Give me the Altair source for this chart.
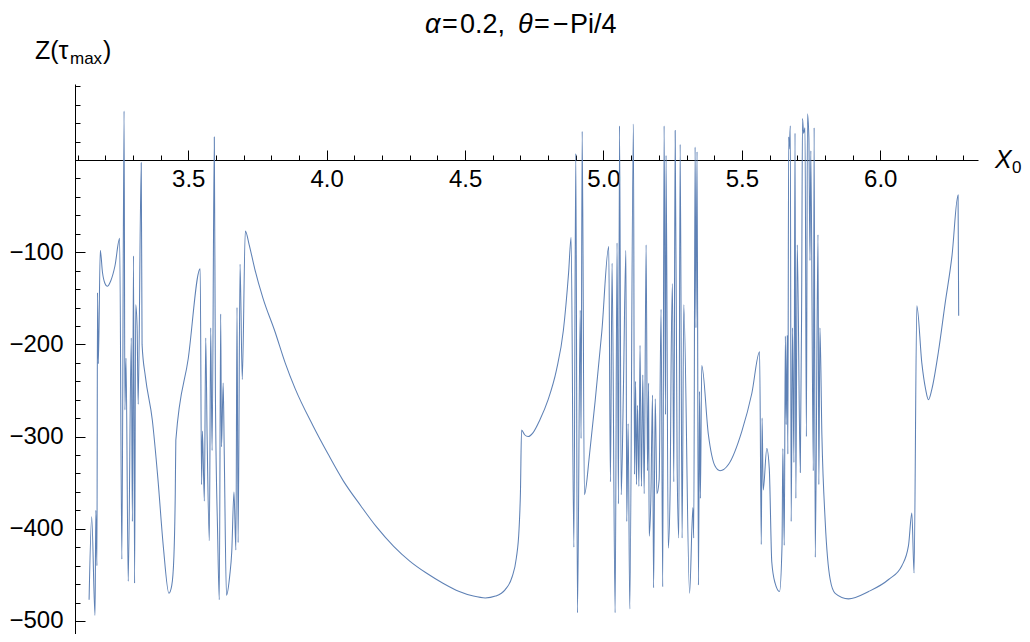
import altair as alt
import pandas as pd

# ---- data (X0, Z(tau_max)) ----
x_a = [3.1416, 3.151, 3.163, 3.166, 3.170, 3.172, 3.175, 3.182, 3.190, 3.199, 3.207, 3.220, 3.235, 3.252,
       3.260, 3.268, 3.271, 3.275, 3.283, 3.294, 3.298, 3.302, 3.306, 3.310, 3.315, 3.319, 3.330,
       3.333, 3.345, 3.370, 3.390, 3.410, 3.430, 3.440, 3.448, 3.453, 3.455]
z_a = [-477, -387, -494, -380, -440, -144, -221, -98, -122, -134, -137, -131, -115, -85,
       -433, 53, -271, -215, -457, -193, -392, -104, -459, -157, -180, -265, -3,
       -200, -235, -282, -345, -420, -470, -462, -430, -360, -304]

x_b = [3.500, 3.543, 3.548, 3.551, 3.558, 3.563, 3.568, 3.576, 3.581, 3.586, 3.594, 3.598, 3.606, 3.612, 3.617,
       3.620, 3.626, 3.630, 3.638, 3.650, 3.657, 3.665, 3.672, 3.676, 3.680, 3.687, 3.695, 3.706]
z_b = [-215, -118, -352, -294, -370, -193, -300, -413, -182, -315, 25, -255, -405, -477, -167,
       -311, -242, -320, -472, -450, -425, -360, -423, -160, -415, -113, -238, -77]

x_c = [3.720, 3.740, 3.770, 3.813, 3.850, 3.886, 3.950, 4.005, 4.060, 4.123, 4.180, 4.242, 4.300, 4.360,
       4.420, 4.479, 4.530, 4.573, 4.610, 4.645, 4.670, 4.685, 4.695, 4.700, 4.704, 4.715, 4.728,
       4.745, 4.770, 4.800, 4.830, 4.855, 4.874, 4.883]
z_c = [-92, -118, -150, -186, -220, -248, -288, -319, -348, -375, -398, -419, -435, -448,
       -459, -468, -473, -475, -473, -466, -452, -432, -400, -360, -293, -298, -300,
       -296, -282, -260, -228, -185, -122, -84]

x_d = [4.893, 4.900, 4.906, 4.916, 4.919, 4.923, 4.931, 4.950, 4.970, 4.994, 5.019, 5.025, 5.031, 5.042,
       5.049, 5.054, 5.058, 5.064, 5.072, 5.081, 5.084, 5.089, 5.095, 5.108, 5.112, 5.116, 5.119,
       5.123, 5.128, 5.132, 5.137, 5.142, 5.147, 5.154, 5.159, 5.163, 5.165, 5.171, 5.177, 5.181,
       5.187, 5.193, 5.201, 5.208, 5.214, 5.219, 5.224, 5.226, 5.234, 5.241, 5.244, 5.249, 5.254,
       5.259, 5.266, 5.272, 5.277, 5.284, 5.290, 5.311, 5.323, 5.326, 5.331, 5.334, 5.338, 5.343,
       5.347, 5.350, 5.355, 5.379, 5.403, 5.421]
z_d = [-420, 7, -491, -163, -302, 31, -363, -318, -261, -186, -94, -349, -112, -491,
       -90, -373, 37, -363, -248, -98, -392, -286, -487, 39, -341, -240, -352,
       -266, -354, -201, -354, -233, -362, -92, -337, -242, -408, -369, -255, -464,
       -259, -362, -347, -162, -463, 37, -276, 5, -421, -354, -231, -134, -349,
       32, -330, -410, 17, -410, -157, -470, -377, -410, 14, -182, 9, -461,
       -251, -367, -223, -298, -332, -337]

x_e = [5.452, 5.500, 5.536, 5.564, 5.570, 5.573, 5.577, 5.590, 5.599, 5.608, 5.620, 5.636, 5.645, 5.648,
       5.653, 5.657, 5.660, 5.664, 5.666, 5.669, 5.671, 5.675, 5.678, 5.683, 5.688, 5.692, 5.695,
       5.700, 5.711, 5.716, 5.719, 5.723, 5.728, 5.733, 5.737, 5.742, 5.746, 5.749, 5.758, 5.761,
       5.765, 5.775, 5.778, 5.782, 5.789, 5.801, 5.819, 5.837, 5.885, 5.958, 6.030, 6.078, 6.102,
       6.114, 6.122, 6.132, 6.150, 6.164, 6.174, 6.186, 6.210, 6.234, 6.259, 6.281, 6.2832]
z_e = [-330, -294, -253, -208, -417, -280, -358, -313, -335, -436, -459, -468, -418, -313,
       -418, -191, -287, -190, -319, 25, 12, 37, -392, -182, -328, 29, -367,
       -92, -339, -148, 45, 29, 35, -300, 50, 24, -109, 10, -337, 35,
       -431, -81, -352, -182, -298, -392, -455, -470, -476, -468, -455, -440, -418,
       -383, -448, -158, -220, -249, -260, -249, -208, -156, -104, -38, -169]

xs = x_a + x_b + x_c + x_d + x_e
zs = z_a + z_b + z_c + z_d + z_e
df = pd.DataFrame({"x": xs, "z": zs, "i": list(range(len(xs)))})

# ---- ticks ----
x_major = [3.5, 4.0, 4.5, 5.0, 5.5, 6.0]
x_minor = [3.1, 3.2, 3.3, 3.4, 3.6, 3.7, 3.8, 3.9, 4.1, 4.2, 4.3, 4.4, 4.6, 4.7, 4.8, 4.9,
           5.1, 5.2, 5.3, 5.4, 5.6, 5.7, 5.8, 5.9, 6.1, 6.2, 6.3]
y_major = [-500, -400, -300, -200, -100]
y_minor = [-480, -460, -440, -420, -380, -360, -340, -320, -280, -260, -240, -220,
           -180, -160, -140, -120, -80, -60, -40, -20, 20, 40, 60, 80]

FONT = "Liberation Sans"
W, H = 903, 550
X_DOM = [3.0907, 6.353]
Y_DOM = [-514.1, 82.4]
X0_OFF = 76  # pixel position of z=0 from top of plot

xscale = alt.Scale(domain=X_DOM, nice=False, zero=False)
yscale = alt.Scale(domain=Y_DOM, nice=False, zero=False)

common_axis = dict(grid=False, title=None, tickColor="black", domainColor="black",
                   labelColor="black", labelFont=FONT)


def line_layer(xaxis, yaxis, opacity):
    return alt.Chart(df).mark_line(color="#5E81B5", strokeWidth=1.05, strokeOpacity=opacity,
                                   interpolate="monotone").encode(
        x=alt.X("x:Q", scale=xscale, axis=xaxis),
        y=alt.Y("z:Q", scale=yscale, axis=yaxis),
        order=alt.Order("i:Q"),
    )


l1 = line_layer(
    alt.Axis(orient="top", offset=-X0_OFF, values=x_major, labels=False, tickSize=10, tickWidth=1,
             domain=True, domainWidth=1, **common_axis),
    alt.Axis(orient="right", offset=-W, values=y_major, labels=False, tickSize=10, tickWidth=1,
             domain=True, domainWidth=1, **common_axis),
    1.0,
)
l2 = line_layer(
    alt.Axis(orient="top", offset=-X0_OFF, values=x_minor, labels=False, tickSize=5, tickWidth=1,
             domain=False, **common_axis),
    alt.Axis(orient="right", offset=-W, values=y_minor, labels=False, tickSize=5, tickWidth=1,
             domain=False, **common_axis),
    0.0,
)
l3 = line_layer(
    alt.Axis(orient="bottom", offset=-(H - X0_OFF), values=x_major, ticks=False, tickSize=0,
             domain=False, labelFontSize=24, labelPadding=7, format=".1f", labelFlush=False,
             labelOverlap=False, **common_axis),
    alt.Axis(orient="left", offset=0, values=y_major, ticks=False, tickSize=0,
             domain=False, labelFontSize=24, labelPadding=12, format="d", labelFlush=False,
             labelOverlap=False, **common_axis),
    0.0,
)


def txt(s, px, py, size, italic=False, align="left"):
    kw = dict(text=s, font=FONT, fontSize=size, align=align, baseline="alphabetic", color="black")
    if italic:
        kw["fontStyle"] = "italic"
    return alt.Chart(alt.Data(values=[{}])).mark_text(**kw).encode(
        x=alt.value(px - 75), y=alt.value(py - 84)
    )


texts = [
    # title  alpha=0.2, theta=-Pi/4
    txt("α", 425, 33, 27, italic=True),
    txt("=", 442, 33, 27),
    txt("0.2,", 460, 33, 27),
    txt("θ", 518, 33, 27, italic=True),
    txt("=", 534, 33, 27),
    txt("−", 553, 33, 27),
    txt("Pi/4", 570, 33, 27),
    # y label Z(tau_max)
    txt("Z(τ", 35, 59, 25),
    txt("max", 70, 64, 17),
    txt(")", 103, 59, 25),
    # x label X_0
    txt("X", 995, 168, 25, italic=True),
    txt("0", 1012, 173, 17),
]

chart = alt.layer(l1, l2, l3, *texts).resolve_axis(
    x="independent", y="independent"
).properties(
    width=W, height=H,
    padding={"left": 67, "top": 76, "right": 44, "bottom": 0},
    autosize=alt.AutoSizeParams(type="none"),
    background="white",
).configure_view(strokeWidth=0)

chart.save("out.html", embed_options={"renderer": "svg", "actions": False})
